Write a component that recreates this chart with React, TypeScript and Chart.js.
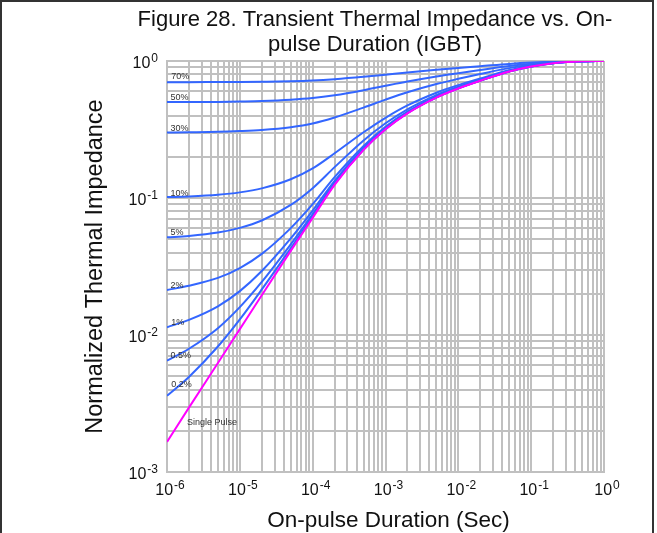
import React, { useEffect, useRef } from 'react';
import { Chart, registerables } from 'chart.js';

Chart.register(...registerables);

// ---- data ----
const durations = [
  1e-6, 2e-6, 5e-6, 1e-5, 2e-5, 5e-5, 1e-4, 2e-4, 5e-4, 1e-3,
  2e-3, 5e-3, 1e-2, 2e-2, 5e-2, 1e-1, 2e-1, 5e-1, 1,
];

const duty70 = [0.700, 0.701, 0.702, 0.703, 0.706, 0.712, 0.721, 0.737, 0.767, 0.795, 0.825, 0.862, 0.889, 0.915, 0.952, 0.974, 0.989, 0.999, 1.0];
const duty50 = [0.501, 0.501, 0.503, 0.506, 0.510, 0.521, 0.536, 0.562, 0.612, 0.659, 0.708, 0.771, 0.815, 0.859, 0.920, 0.956, 0.982, 0.998, 1.0];
const duty30 = [0.301, 0.302, 0.304, 0.308, 0.314, 0.329, 0.350, 0.387, 0.457, 0.522, 0.591, 0.679, 0.741, 0.803, 0.887, 0.938, 0.975, 0.997, 1.0];
const duty10 = [0.1015, 0.1027, 0.1056, 0.1099, 0.1176, 0.137, 0.1644, 0.212, 0.302, 0.385, 0.474, 0.587, 0.667, 0.746, 0.855, 0.921, 0.968, 0.996, 1.0];
const duty5 = [0.0516, 0.0528, 0.0559, 0.0605, 0.0685, 0.089, 0.118, 0.168, 0.263, 0.351, 0.444, 0.564, 0.649, 0.732, 0.847, 0.916, 0.966, 0.995, 1.0];
const duty2 = [0.0213, 0.0229, 0.0261, 0.0308, 0.0391, 0.0603, 0.0902, 0.142, 0.240, 0.331, 0.427, 0.550, 0.637, 0.724, 0.842, 0.914, 0.965, 0.995, 1.0];
const duty1 = [0.0114, 0.0129, 0.0162, 0.0209, 0.0293, 0.0507, 0.0809, 0.1335, 0.232, 0.324, 0.421, 0.546, 0.634, 0.721, 0.841, 0.913, 0.964, 0.995, 1.0];
const duty05 = [0.0065, 0.00794, 0.01122, 0.01598, 0.0244, 0.0459, 0.0762, 0.129, 0.228, 0.320, 0.418, 0.543, 0.632, 0.719, 0.840, 0.912, 0.964, 0.995, 1.0];
const duty02 = [0.0036, 0.00494, 0.00824, 0.0130, 0.0215, 0.0430, 0.0734, 0.1265, 0.226, 0.318, 0.416, 0.542, 0.631, 0.719, 0.839, 0.912, 0.964, 0.995, 1.0];
const singlePulse = [0.00166, 0.00295, 0.00625, 0.01104, 0.0195, 0.0411, 0.0716, 0.1247, 0.2244, 0.317, 0.415, 0.541, 0.630, 0.718, 0.839, 0.912, 0.964, 0.995, 1.0];

const seriesNames = ['Single Pulse', '0.2%', '0.5%', '1%', '2%', '5%', '10%', '30%', '50%', '70%'];
const seriesValues = [singlePulse, duty02, duty05, duty1, duty2, duty5, duty10, duty30, duty50, duty70];

// curve label anchors (data coordinates: left edge x, vertical centre y)
const labelX = [1.88e-6, 1.14e-6, 1.12e-6, 1.14e-6, 1.12e-6, 1.12e-6, 1.12e-6, 1.12e-6, 1.12e-6, 1.14e-6];
const labelY = [0.00229, 0.00436, 0.00703, 0.0123, 0.0228, 0.0558, 0.108, 0.323, 0.54, 0.768];

const xExponents = [-6, -5, -4, -3, -2, -1, 0];
const yExponents = [-3, -2, -1, 0];

const titleLines = ['Figure 28. Transient Thermal Impedance vs. On-', 'pulse Duration (IGBT)'];
const xTitle = 'On-pulse Duration (Sec)';
const yTitle = 'Normalized Thermal Impedance';

const FONT = '"Liberation Sans", Arial, Helvetica, sans-serif';
const BLUE = '#3366ff';
const MAGENTA = '#ff00ff';
const GRID = '#c0c0c0';

function logTicks(minExp: number, maxExp: number) {
  const t: { value: number }[] = [];
  for (let e = minExp; e < maxExp; e++) {
    for (let m = 1; m <= 9; m++) t.push({ value: m * Math.pow(10, e) });
  }
  t.push({ value: Math.pow(10, maxExp) });
  return t;
}

function drawPow(ctx: CanvasRenderingContext2D, exp: number, x: number, y: number, align: 'center' | 'right') {
  const base = '10';
  const e = String(exp);
  ctx.font = `16px ${FONT}`;
  const wb = ctx.measureText(base).width;
  ctx.font = `12px ${FONT}`;
  const we = ctx.measureText(e).width;
  const total = wb + we + 1;
  const left = align === 'center' ? x - total / 2 : x - total;
  ctx.textAlign = 'left';
  ctx.textBaseline = 'alphabetic';
  ctx.font = `16px ${FONT}`;
  ctx.fillText(base, left, y);
  ctx.font = `12px ${FONT}`;
  ctx.fillText(e, left + wb + 1, y - 6);
}

const textPlugin = {
  id: 'textPlugin',
  afterDraw(chart: any) {
    const ctx: CanvasRenderingContext2D = chart.ctx;
    const xs = chart.scales.x;
    const ys = chart.scales.y;
    const area = chart.chartArea;
    ctx.save();

    // curve labels
    ctx.font = `9px ${FONT}`;
    ctx.textAlign = 'left';
    ctx.textBaseline = 'middle';
    ctx.fillStyle = '#333';
    seriesNames.forEach((name, i) => {
      const px = xs.getPixelForValue(labelX[i]);
      const py = ys.getPixelForValue(labelY[i]);
      ctx.fillText(name, px, py);
    });

    ctx.fillStyle = '#111';
    // tick labels
    xExponents.forEach((e) => {
      const px = xs.getPixelForValue(Math.pow(10, e));
      drawPow(ctx, e, px + 3, area.bottom + 23, 'center');
    });
    yExponents.forEach((e) => {
      const py = ys.getPixelForValue(Math.pow(10, e));
      drawPow(ctx, e, area.left - 9, py + 7, 'right');
    });

    // title
    ctx.font = `22px ${FONT}`;
    ctx.textAlign = 'center';
    ctx.textBaseline = 'alphabetic';
    titleLines.forEach((line, i) => {
      ctx.fillText(line, 375, 26 + i * 25);
    });

    // x axis title
    ctx.font = `22.5px ${FONT}`;
    ctx.fillText(xTitle, (area.left + area.right) / 2 + 3, area.bottom + 55);

    // y axis title
    ctx.save();
    ctx.translate(102, (area.top + area.bottom) / 2);
    ctx.rotate(-Math.PI / 2);
    ctx.font = `23.5px ${FONT}`;
    ctx.textAlign = 'center';
    ctx.fillText(yTitle, 0, 0);
    ctx.restore();

    ctx.restore();
  },
};

export default function App() {
  const ref = useRef<HTMLCanvasElement | null>(null);

  useEffect(() => {
    if (!ref.current) return;
    const datasets = seriesNames.map((name, i) => ({
      label: name,
      data: durations.map((d, j) => ({ x: d, y: seriesValues[i][j] })),
      borderColor: name === 'Single Pulse' ? MAGENTA : BLUE,
      backgroundColor: name === 'Single Pulse' ? MAGENTA : BLUE,
      borderWidth: 2,
      pointRadius: 0,
      fill: false,
      cubicInterpolationMode: 'monotone' as const,
    }));

    const chart = new Chart(ref.current, {
      type: 'line',
      data: { datasets },
      options: {
        responsive: false,
        animation: false,
        devicePixelRatio: 1,
        layout: { padding: { left: 167, top: 61, right: 53, bottom: 61 } },
        plugins: {
          legend: { display: false },
          title: { display: false },
          tooltip: { enabled: false },
        },
        scales: {
          x: {
            type: 'logarithmic',
            min: 1e-6,
            max: 1,
            afterBuildTicks: (s: any) => {
              s.ticks = logTicks(-6, 0);
            },
            afterFit: (s: any) => {
              s.height = 0;
            },
            ticks: { display: false },
            grid: { color: GRID, lineWidth: 2, drawTicks: false },
            border: { display: true, color: GRID, width: 2 },
          },
          y: {
            type: 'logarithmic',
            min: 1e-3,
            max: 1,
            afterBuildTicks: (s: any) => {
              s.ticks = logTicks(-3, 0);
            },
            afterFit: (s: any) => {
              s.width = 0;
            },
            ticks: { display: false },
            grid: { color: GRID, lineWidth: 2, drawTicks: false },
            border: { display: true, color: GRID, width: 2 },
          },
        },
      },
      plugins: [textPlugin],
    });
    return () => chart.destroy();
  }, []);

  return (
    <div style={{ position: 'fixed', left: 0, top: 0, width: 657, height: 533, overflow: 'hidden', background: '#fff' }}>
      <canvas ref={ref} width={657} height={533} style={{ position: 'absolute', left: 0, top: 0, width: 657, height: 533 }} />
      <div
        style={{
          position: 'absolute',
          left: 0,
          top: 0,
          width: 654,
          height: 533,
          borderTop: '2px solid #333',
          borderLeft: '2px solid #333',
          borderRight: '2px solid #333',
          boxSizing: 'border-box',
          pointerEvents: 'none',
        }}
      />
    </div>
  );
}
